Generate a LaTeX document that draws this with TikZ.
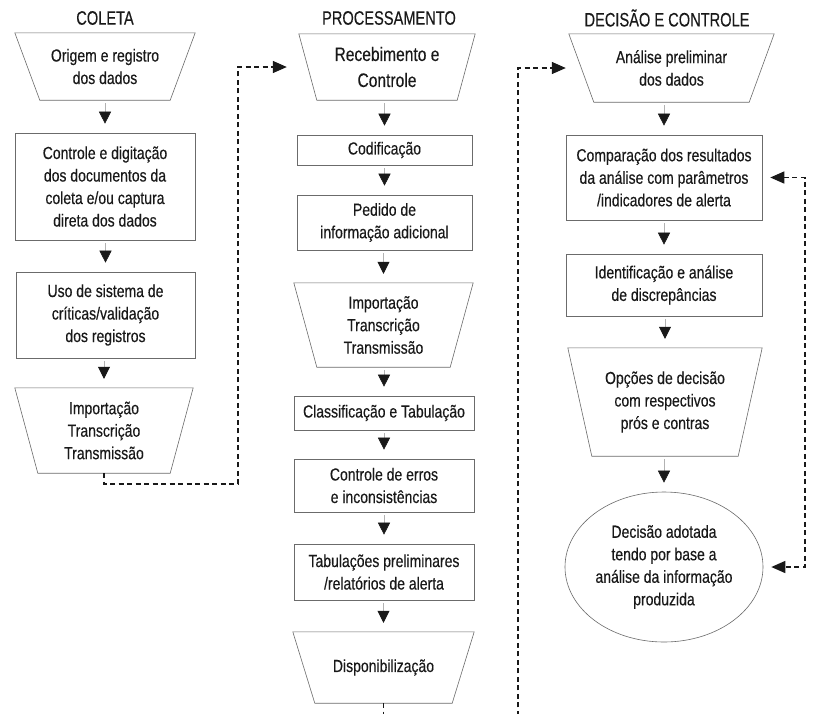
\documentclass[tikz,border=0pt]{standalone}
\usepackage{fontspec}
\setmainfont{Liberation Sans}[FakeStretch=0.8,FakeBold=0.3]
\newfontfamily\headfont{Liberation Sans}[FakeStretch=0.75,FakeBold=0.3]
\usetikzlibrary{arrows.meta,shapes.geometric}
\definecolor{ink}{gray}{0.1}
\definecolor{edge}{gray}{0.42}

% trapezoid outline drawn around a (borderless) rectangular node:
% #1 = node name, #2 = horizontal inset of the lower corners
\newcommand\trapz[2]{%
  \draw[edge, line width=0.6pt] (#1.north west) -- (#1.north east)
    -- ([xshift=-#2pt]#1.south east) -- ([xshift=#2pt]#1.south west) -- cycle;}

\tikzset{
  every node/.style={inner sep=0pt, text=ink, align=center,
    font=\fontsize{17.5}{22.5}\selectfont},
  box/.style={draw=edge, line width=0.6pt},
  trap/.style={},
  oval/.style={ellipse, draw=edge, line width=0.6pt},
  head/.style={font=\headfont\fontsize{19.5}{22}\selectfont},
  flow/.style={draw=gray!60, line width=0.5pt,
    arrows={-Triangle[length=12pt,width=12pt,color=ink]},
    shorten <=3pt, shorten >=9pt},
  link/.style={draw=ink, line width=1.4pt, dash pattern=on 5pt off 3.5pt,
    arrows={-Triangle[length=14pt,width=12pt]}},
  linkboth/.style={link,
    arrows={Triangle[length=14pt,width=12pt]-Triangle[length=14pt,width=12pt]}},
}

\begin{document}
\begin{tikzpicture}[x=1pt,y=-1pt]
\clip (0,0) rectangle (820,713);
\fill[white] (0,0) rectangle (820,713);

% column headings
\node[head] (h1) at (105,18) {COLETA};
\node[head] (h2) at (389,18) {PROCESSAMENTO};
\node[head] (h3) at (667,18) {DECISÃO E CONTROLE};

% ---- COLETA ----
\node[trap, minimum width=180pt, minimum height=67pt] (c1) at (105,66.5)
  {Origem e registro\\dos dados};
\trapz{c1}{25}
\node[box, minimum width=180pt, minimum height=107pt] (c2) at (105,186.5)
  {Controle e digitação\\dos documentos da\\coleta e/ou captura\\direta dos dados};
\node[box, minimum width=179pt, minimum height=86pt] (c3) at (105.5,315)
  {Uso de sistema de\\críticas/validação\\dos registros};
\node[trap, minimum width=178pt, minimum height=85pt] (c4) at (104,430.5)
  {Importação\\Transcrição\\Transmissão};
\trapz{c4}{23}

% ---- PROCESSAMENTO ----
\node[trap, minimum width=176pt, minimum height=66pt,
      font=\fontsize{19.5}{26}\selectfont] (p1) at (387,67)
  {Recebimento e\\Controle};
\trapz{p1}{18}
\node[box, minimum width=175pt, minimum height=30pt] (p2) at (384.5,150)
  {Codificação};
\node[box, minimum width=175pt, minimum height=55pt] (p3) at (384.5,222.5)
  {Pedido de\\informação adicional};
\node[trap, minimum width=179pt, minimum height=84pt] (p4) at (383.5,325)
  {Importação\\Transcrição\\Transmissão};
\trapz{p4}{23}
\node[box, minimum width=180pt, minimum height=34pt] (p5) at (384,413)
  {Classificação e Tabulação};
\node[box, minimum width=180pt, minimum height=53pt] (p6) at (384,485.5)
  {Controle de erros\\e inconsistências};
\node[box, minimum width=180pt, minimum height=56pt] (p7) at (384,572)
  {Tabulações preliminares\\/relatórios de alerta};
\node[trap, minimum width=181pt, minimum height=71pt] (p8) at (383.5,667.5)
  {Disponibilização};
\trapz{p8}{22}

% ---- DECISÃO E CONTROLE ----
\node[trap, minimum width=205pt, minimum height=68pt] (d1) at (671.5,68)
  {Análise preliminar\\dos dados};
\trapz{d1}{25}
\node[box, minimum width=196pt, minimum height=85pt] (d2) at (664,177.5)
  {Comparação dos resultados\\da análise com parâmetros\\/indicadores de alerta};
\node[box, minimum width=196pt, minimum height=62pt] (d3) at (664,285)
  {Identificação e análise\\de discrepâncias};
\node[trap, minimum width=194pt, minimum height=108pt] (d4) at (665,402)
  {Opções de decisão\\com respectivos\\prós e contras};
\trapz{d4}{24}
\node[oval, minimum width=198pt, minimum height=150pt] (d5) at (664,567)
  {Decisão adotada\\tendo por base a\\análise da informação\\produzida};

% solid flow arrows inside each column
\draw[flow] (c2.north |- c1.south) -- (c2.north);
\draw[flow] (c3.north |- c2.south) -- (c3.north);
\draw[flow] (c4.north |- c3.south) -- (c4.north);
\draw[flow] (p2.north |- p1.south) -- (p2.north);
\draw[flow] (p3.north |- p2.south) -- (p3.north);
\draw[flow] (p4.north |- p3.south) -- (p4.north);
\draw[flow] (p5.north |- p4.south) -- (p5.north);
\draw[flow] (p6.north |- p5.south) -- (p6.north);
\draw[flow] (p7.north |- p6.south) -- (p7.north);
\draw[flow] (p8.north |- p7.south) -- (p8.north);
\draw[flow] (d2.north |- d1.south) -- (d2.north);
\draw[flow] (d3.north |- d2.south) -- (d3.north);
\draw[flow] (d4.north |- d3.south) -- (d4.north);
\draw[flow] (d5.north |- d4.south) -- (d5.north);

% dashed hand-overs between the columns
\coordinate (k1) at (238,484);
\draw[link, shorten >=12pt] (c4.south) |- (k1) |- (p1.west);
\coordinate (k2) at (518,740);
\draw[link, shorten >=3pt] (p8.south) |- (k2) |- (d1.west);

% dashed feedback loop on the right
\coordinate (fb) at (805,0);
\draw[linkboth, shorten >=8pt, shorten <=8pt]
  (d2.east) -- (d2.east -| fb) -- (d5.east -| fb) -- (d5.east);
\end{tikzpicture}
\end{document}
